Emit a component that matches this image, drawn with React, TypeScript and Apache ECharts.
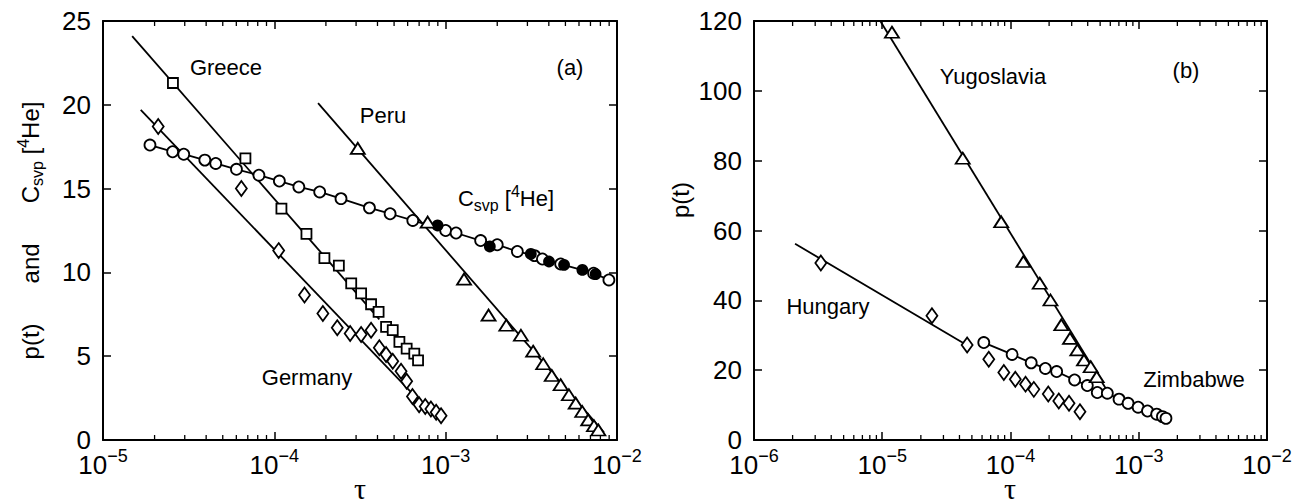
import React, { useEffect, useRef } from 'react';
import * as echarts from 'echarts';

// ---------- Panel (a) data ----------
const greeceTau = [2.56e-5, 6.78e-5, 1.10e-4, 1.54e-4, 1.96e-4, 2.38e-4, 2.81e-4, 3.21e-4, 3.67e-4, 4.06e-4, 4.49e-4, 4.91e-4, 5.37e-4, 5.92e-4, 6.56e-4, 6.9e-4];
const greeceP = [21.3, 16.8, 13.8, 12.3, 10.85, 10.4, 9.35, 8.75, 8.1, 7.65, 6.75, 6.55, 5.85, 5.45, 5.15, 4.75];
const greeceFitTau = [1.48e-5, 4.1e-4];
const greeceFitP = [24.1, 7.2];

const germanyTau = [2.10e-5, 6.42e-5, 1.06e-4, 1.50e-4, 1.92e-4, 2.33e-4, 2.77e-4, 3.21e-4, 3.67e-4, 4.10e-4, 4.49e-4, 4.91e-4, 5.49e-4, 5.92e-4, 6.4e-4, 7.0e-4, 7.6e-4, 8.2e-4, 8.8e-4, 9.4e-4];
const germanyP = [18.7, 15.0, 11.3, 8.65, 7.55, 6.7, 6.35, 6.3, 6.55, 5.5, 5.1, 4.7, 4.1, 3.5, 2.6, 2.1, 2.0, 1.85, 1.65, 1.45];
const germanyFitTau = [1.66e-5, 7.0e-4];
const germanyFitP = [19.7, 2.35];

const peruTau = [3.07e-4, 7.85e-4, 1.28e-3, 1.78e-3, 2.26e-3, 2.75e-3, 3.24e-3, 3.71e-3, 4.16e-3, 4.69e-3, 5.24e-3, 5.74e-3, 6.27e-3, 6.79e-3, 7.34e-3, 7.78e-3];
const peruP = [17.4, 13.0, 9.6, 7.45, 6.85, 6.25, 5.3, 4.55, 3.85, 3.3, 2.7, 2.2, 1.7, 1.2, 0.85, 0.6];
const peruFitTau = [1.8e-4, 8.39e-3];
const peruFitP = [20.1, 0.45];

const heOpenTau = [1.88e-5, 2.55e-5, 2.96e-5, 3.93e-5, 4.55e-5, 6.01e-5, 8.13e-5, 1.07e-4, 1.39e-4, 1.84e-4, 2.45e-4, 3.59e-4, 4.74e-4, 6.43e-4, 1.00e-3, 1.15e-3, 1.60e-3, 2.00e-3, 2.62e-3, 3.3e-3, 3.67e-3, 4.69e-3, 7.3e-3, 8.97e-3];
const heOpenC = [17.6, 17.2, 17.05, 16.7, 16.5, 16.15, 15.8, 15.45, 15.1, 14.8, 14.4, 13.85, 13.5, 13.1, 12.5, 12.35, 11.9, 11.65, 11.25, 11.0, 10.8, 10.5, 9.95, 9.55];
const heFilledTau = [8.97e-4, 1.81e-3, 3.14e-3, 4.01e-3, 4.91e-3, 6.28e-3, 7.50e-3];
const heFilledC = [12.8, 11.55, 11.1, 10.65, 10.45, 10.15, 9.9];

// ---------- Panel (b) data ----------
const yugoTau = [1.19e-5, 4.24e-5, 8.46e-5, 1.26e-4, 1.69e-4, 2.05e-4, 2.49e-4, 2.91e-4, 3.32e-4, 3.74e-4, 4.22e-4, 4.70e-4];
const yugoP = [116.8, 80.7, 62.5, 51.1, 44.9, 40.1, 33.0, 29.1, 25.8, 22.9, 21.0, 18.1];
const yugoFitTau = [9.65e-6, 5.52e-4];
const yugoFitP = [120, 14.8];

const zimTau = [6.19e-5, 1.03e-4, 1.45e-4, 1.87e-4, 2.29e-4, 3.16e-4, 3.97e-4, 4.75e-4, 5.69e-4, 7.02e-4, 8.26e-4, 9.89e-4, 1.17e-3, 1.38e-3, 1.53e-3, 1.63e-3];
const zimP = [27.9, 24.5, 22.1, 20.5, 19.6, 17.2, 15.6, 13.6, 13.4, 11.7, 10.5, 9.4, 8.3, 7.4, 6.7, 6.2];

const hungTau = [3.32e-6, 2.44e-5, 4.59e-5, 6.77e-5, 8.87e-5, 1.09e-4, 1.31e-4, 1.52e-4, 1.97e-4, 2.38e-4, 2.86e-4, 3.48e-4];
const hungP = [50.7, 35.6, 27.2, 23.1, 19.3, 17.4, 16.0, 14.5, 13.2, 11.2, 10.5, 8.1];
const hungFitTau = [2.09e-6, 4.45e-5];
const hungFitP = [56.2, 27.4];

const FONT = "'Liberation Sans', Arial, Helvetica, sans-serif";
const SERIF = "'Liberation Serif', 'DejaVu Serif', serif";
const BLACK = '#000';
const MINOR_MULT = [2, 3, 4, 5, 6, 7, 8, 9];

const zip = (a: number[], b: number[]) => a.map((v, i) => [v, b[i]]);

function minorTicks(decades: number[]) {
  const out: number[][] = [];
  decades.forEach((d) => MINOR_MULT.forEach((m) => out.push([m * Math.pow(10, d), 0])));
  return out;
}

const supRich = {
  base: { fontSize: 26, fontFamily: FONT, color: BLACK },
  sup: { fontSize: 18, fontFamily: FONT, color: BLACK, padding: [0, 0, 18, 0] },
};

function xAxisDef(gridIndex: number, min: number, max: number, bottom: boolean) {
  return {
    type: 'log',
    logBase: 10,
    gridIndex,
    min,
    max,
    position: bottom ? 'bottom' : 'top',
    axisLine: { show: true, onZero: false, lineStyle: { color: BLACK, width: 2 } },
    axisTick: { show: true, inside: true, length: 8, lineStyle: { color: BLACK, width: 1.5 } },
    axisLabel: bottom
      ? {
          show: true,
          margin: 7,
          formatter: (v: number) => '{base|10}{sup|−' + Math.round(-Math.log10(v)) + '}',
          rich: supRich,
        }
      : { show: false },
    splitLine: { show: false },
  };
}

function yAxisDef(gridIndex: number, max: number, interval: number, left: boolean, extra: any = {}) {
  return {
    type: 'value',
    gridIndex,
    min: 0,
    max,
    interval,
    position: left ? 'left' : 'right',
    axisLine: { show: true, onZero: false, lineStyle: { color: BLACK, width: 2 } },
    axisTick: { show: true, inside: true, length: 8, lineStyle: { color: BLACK, width: 1.5 } },
    axisLabel: left
      ? { show: true, margin: 12, fontSize: 26, lineHeight: 20, fontFamily: FONT, color: BLACK }
      : { show: false },
    splitLine: { show: false },
    ...extra,
  };
}

const markerStyle = (filled: boolean) => ({
  color: filled ? BLACK : '#fff',
  borderColor: BLACK,
  borderWidth: 1.8,
  opacity: 1,
});

function fitLine(x: number, y: number, tau: number[], p: number[]) {
  return {
    type: 'line',
    xAxisIndex: x,
    yAxisIndex: y,
    data: zip(tau, p),
    symbol: 'none',
    lineStyle: { color: BLACK, width: 1.8 },
    z: 2,
    silent: true,
  };
}

function scatter(x: number, y: number, data: number[][], symbol: string, size: any, filled = false) {
  return {
    type: 'scatter',
    xAxisIndex: x,
    yAxisIndex: y,
    data,
    symbol,
    symbolSize: size,
    itemStyle: markerStyle(filled),
    z: 4,
    silent: true,
  };
}

function minorSeries(x: number, y: number, decades: number[]) {
  return {
    type: 'custom',
    xAxisIndex: x,
    yAxisIndex: y,
    data: minorTicks(decades),
    clip: false,
    silent: true,
    z: 10,
    renderItem: (params: any, api: any) => {
      const cs = params.coordSys;
      const px = api.coord([api.value(0), api.value(1)])[0];
      const st = { stroke: BLACK, lineWidth: 1.3 };
      return {
        type: 'group',
        children: [
          { type: 'line', shape: { x1: px, y1: cs.y + cs.height, x2: px, y2: cs.y + cs.height - 5 }, style: st },
          { type: 'line', shape: { x1: px, y1: cs.y, x2: px, y2: cs.y + 5 }, style: st },
        ],
      };
    },
  };
}

function label(text: string, x: number, y: number, size = 22, rich?: any, rotation = 0, family = FONT, lineHeight?: number) {
  return {
    type: 'text',
    x,
    y,
    rotation,
    silent: true,
    z: 20,
    style: {
      text,
      fill: BLACK,
      fontSize: size,
      fontFamily: family,
      align: 'center',
      verticalAlign: 'middle',
      ...(lineHeight ? { lineHeight } : {}),
      ...(rich ? { rich } : {}),
    },
  };
}

const subSupRich = {
  sub: { fontSize: 16, fontFamily: FONT, color: BLACK, padding: [14, 0, 0, 0] },
  sup: { fontSize: 16, fontFamily: FONT, color: BLACK, padding: [0, 0, 14, 0] },
};

const GAP = '      ';

export default function App() {
  const ref = useRef<HTMLDivElement>(null);
  useEffect(() => {
    if (!ref.current) return;
    const chart = echarts.init(ref.current, undefined, { renderer: 'svg' });
    const option: any = {
      animation: false,
      backgroundColor: '#fff',
      grid: [
        { left: 103, top: 21, width: 514, height: 419, containLabel: false, outerBoundsMode: 'none' },
        { left: 754, top: 21, width: 513, height: 419, containLabel: false, outerBoundsMode: 'none' },
      ],
      xAxis: [
        xAxisDef(0, 1e-5, 1e-2, true),
        xAxisDef(0, 1e-5, 1e-2, false),
        xAxisDef(1, 1e-6, 1e-2, true),
        xAxisDef(1, 1e-6, 1e-2, false),
      ],
      yAxis: [
        yAxisDef(0, 25, 5, true, {
          name: 'p(t)' + GAP + 'and' + GAP + 'C{sub|svp} [{sup|4}He]',
          nameLocation: 'middle',
          nameRotate: 90,
          nameGap: 58,
          nameTextStyle: { fontSize: 24, fontFamily: FONT, color: BLACK, rich: subSupRich },
        }),
        yAxisDef(0, 25, 5, false),
        yAxisDef(1, 120, 20, true),
        yAxisDef(1, 120, 20, false),
      ],
      series: [
        minorSeries(0, 0, [-5, -4, -3]),
        minorSeries(2, 2, [-6, -5, -4, -3]),
        // panel (a)
        fitLine(0, 0, greeceFitTau, greeceFitP),
        fitLine(0, 0, germanyFitTau, germanyFitP),
        fitLine(0, 0, peruFitTau, peruFitP),
        {
          type: 'line',
          xAxisIndex: 0,
          yAxisIndex: 0,
          data: zip(heOpenTau, heOpenC),
          symbol: 'circle',
          symbolSize: 11,
          showSymbol: true,
          showAllSymbol: true,
          itemStyle: markerStyle(false),
          lineStyle: { color: BLACK, width: 1.8 },
          z: 3,
          silent: true,
        },
        scatter(0, 0, zip(heFilledTau, heFilledC), 'circle', 10, true),
        scatter(0, 0, zip(greeceTau, greeceP), 'rect', 10),
        scatter(0, 0, zip(germanyTau, germanyP), 'diamond', [11, 15]),
        scatter(0, 0, zip(peruTau, peruP), 'triangle', [14, 11]),
        // panel (b)
        fitLine(2, 2, yugoFitTau, yugoFitP),
        fitLine(2, 2, hungFitTau, hungFitP),
        {
          type: 'line',
          xAxisIndex: 2,
          yAxisIndex: 2,
          data: zip(zimTau, zimP),
          symbol: 'circle',
          symbolSize: 11,
          showSymbol: true,
          showAllSymbol: true,
          itemStyle: markerStyle(false),
          lineStyle: { color: BLACK, width: 1.8 },
          z: 3,
          silent: true,
        },
        scatter(2, 2, zip(yugoTau, yugoP), 'triangle', [14, 11]),
        scatter(2, 2, zip(hungTau, hungP), 'diamond', [11, 15]),
      ],
      graphic: [
        label('Greece', 226, 67),
        label('Peru', 383, 115),
        label('C{sub|svp} [{sup|4}He]', 506, 198, 22, subSupRich),
        label('Germany', 307, 377),
        label('(a)', 570, 67),
        label('Yugoslavia', 993, 76),
        label('Hungary', 828, 306),
        label('Zimbabwe', 1194, 379),
        label('(b)', 1186, 70),
        label('p(t)', 680, 200, 24, undefined, Math.PI / 2),
        label('τ', 360, 488, 30, undefined, 0, SERIF, 18),
        label('τ', 1010, 488, 30, undefined, 0, SERIF, 18),
      ],
    };
    chart.setOption(option);
    return () => chart.dispose();
  }, []);
  return <div ref={ref} style={{ position: 'absolute', left: 0, top: 0, width: 1309, height: 502, background: '#fff' }} />;
}
